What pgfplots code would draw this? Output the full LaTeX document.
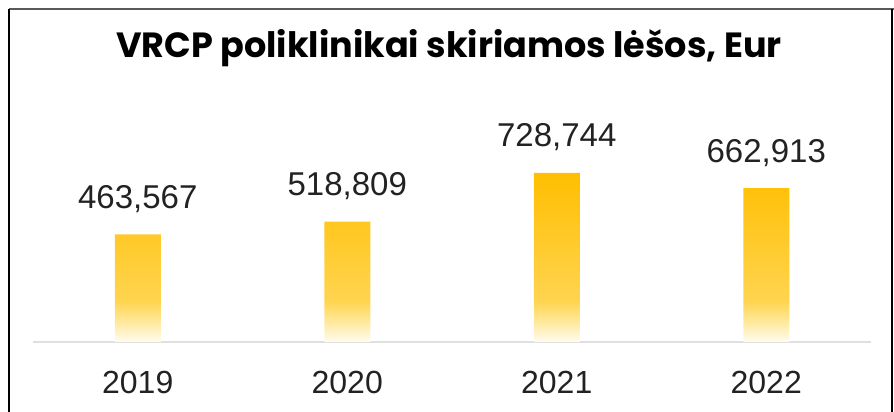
\documentclass[border=0pt]{standalone}
\usepackage{fontspec}
\setmainfont{Liberation Sans}
\newfontfamily\titlefont{Poppins}
\usepackage{pgfplots}
\usepackage{pgfplotstable}
\pgfplotsset{compat=1.18}

\definecolor{bartop}{RGB}{255,190,0}
\definecolor{barmid}{RGB}{255,212,80}
\definecolor{barpale}{RGB}{255,236,170}
\definecolor{barlow}{RGB}{255,252,242}
\definecolor{txt}{RGB}{34,34,34}
% path box maps to 25bp..75bp
\pgfdeclareverticalshading{barfade}{100bp}{color(0bp)=(barlow); color(25bp)=(barlow); color(30bp)=(barpale); color(37bp)=(barmid); color(75bp)=(bartop); color(100bp)=(bartop)}

\pgfplotstableread{
x y lab
0 463567 463,567
1 518809 518,809
2 728744 728,744
3 662913 662,913
}\funds

\begin{document}
\begin{tikzpicture}[x=1pt,y=1pt]
\path[use as bounding box] (0,0) rectangle (894,412);
% frame
\draw[gray!70!black, line width=1.5pt] (9,403) -- (894,403);
\draw[black, line width=1.2pt] (9,0) -- (9,403);
\draw[black, line width=1.2pt] (892,0) -- (892,403);
\node[font=\titlefont\bfseries\fontsize{35}{42}\selectfont, text=black] at (449,364) {VRCP poliklinikai skiriamos lėšos, Eur};
\begin{axis}[
  at={(33pt,70pt)}, anchor=south west,
  scale only axis, width=838pt, height=232pt,
  xmin=-0.5, xmax=3.5, ymin=0, ymax=1000000,
  axis x line*=bottom, axis y line=none,
  x axis line style={draw=black!12, line width=2pt, -},
  xtick=data, xticklabels={2019,2020,2021,2022},
  major tick length=0pt,
  xticklabel style={anchor=base, yshift=-52pt, font=\fontsize{32}{38}\selectfont, text=txt},
  ytick=\empty,
  clip=false,
  ybar, bar width=46pt,
  nodes near coords,
  point meta=explicit symbolic,
  nodes near coords style={anchor=base, yshift=26pt, font=\fontsize{33}{38}\selectfont, text=txt},
]
\addplot[draw=none, shading=barfade] table[x=x, y=y, meta=lab] {\funds};
\end{axis}
\end{tikzpicture}
\end{document}
